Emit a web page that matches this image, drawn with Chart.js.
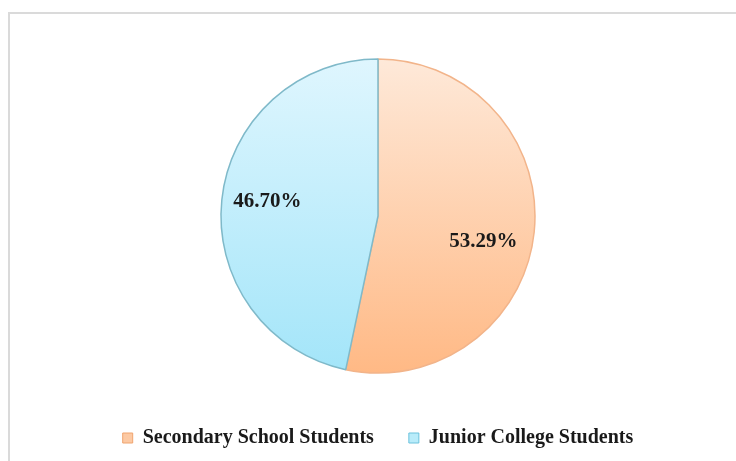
<!DOCTYPE html>
<html>
<head>
<meta charset="utf-8">
<script src="https://cdn.jsdelivr.net/npm/chart.js@4"></script>
<style>
  html, body { margin: 0; padding: 0; background: #ffffff; }
  #wrap { position: relative; width: 736px; height: 461px; overflow: hidden; }
  #frame { position: absolute; left: 8px; top: 12px; width: 740px; height: 460px;
           border-left: 2px solid #dadada; border-top: 2px solid #dadada; }
  canvas { position: absolute; left: 0; top: 0; }
</style>
</head>
<body>
<div id="wrap">
  <div id="frame"></div>
  <canvas id="c" width="736" height="461"></canvas>
</div>
<script>
const categories = ['Secondary School Students', 'Junior College Students'];
const shares = [53.29, 46.70];
const shareLabels = ['53.29%', '46.70%'];

const gradTop = ['#fee9d9', '#dff6fe'];
const gradBottom = ['#ffb985', '#a3e5f9'];
const sliceBorders = ['#f2b48a', '#7fb9c9'];
const legendFill = ['#fcc9a3', '#b9ecfa'];
const legendStroke = ['#f0a46f', '#6cc2dc'];

const PIE_R = 157;

function sliceFill(ctx) {
  const chart = ctx.chart;
  const area = chart.chartArea;
  const i = ctx.dataIndex;
  if (!area) return gradBottom[i];
  const cy = (area.top + area.bottom) / 2;
  const g = chart.ctx.createLinearGradient(0, cy - PIE_R, 0, cy + PIE_R);
  g.addColorStop(0, gradTop[i]);
  g.addColorStop(1, gradBottom[i]);
  return g;
}

const labelPlugin = {
  id: 'sliceLabels',
  afterDatasetsDraw(chart, args, opts) {
    const meta = chart.getDatasetMeta(0);
    const ctx = chart.ctx;
    ctx.save();
    ctx.font = 'bold 21px "Liberation Serif", "Times New Roman", serif';
    ctx.fillStyle = '#1a1a1a';
    ctx.textAlign = 'center';
    ctx.textBaseline = 'middle';
    meta.data.forEach((arc, i) => {
      const p = arc.getProps(['x', 'y', 'startAngle', 'endAngle', 'outerRadius'], true);
      const mid = (p.startAngle + p.endAngle) / 2;
      const d = p.outerRadius * 0.69;
      const n = opts.nudge[i] || [0, 0];
      ctx.fillText(shareLabels[i], p.x + Math.cos(mid) * d + n[0], p.y + Math.sin(mid) * d + n[1]);
    });
    ctx.restore();
  }
};

new Chart(document.getElementById('c'), {
  type: 'pie',
  data: {
    labels: categories,
    datasets: [{
      data: shares,
      backgroundColor: sliceFill,
      borderColor: sliceBorders,
      borderWidth: 1.5,
      radius: PIE_R
    }]
  },
  plugins: [labelPlugin],
  options: {
    responsive: false,
    animation: false,
    layout: { padding: { top: 39, bottom: 3, left: 20, right: 0 } },
    plugins: {
      tooltip: { enabled: false },
      sliceLabels: { nudge: [[-2.5, 14.5], [-3, -3]] },
      legend: {
        position: 'bottom',
        labels: {
          boxWidth: 10,
          boxHeight: 10,
          padding: 35,
          color: '#1a1a1a',
          font: { family: '"Liberation Serif", "Times New Roman", serif', size: 20, weight: 'bold' },
          generateLabels(chart) {
            return chart.data.labels.map((t, i) => ({
              text: t,
              fillStyle: legendFill[i],
              strokeStyle: legendStroke[i],
              lineWidth: 1,
              hidden: false,
              index: i,
              fontColor: '#1a1a1a'
            }));
          }
        }
      }
    }
  }
});
</script>
</body>
</html>
